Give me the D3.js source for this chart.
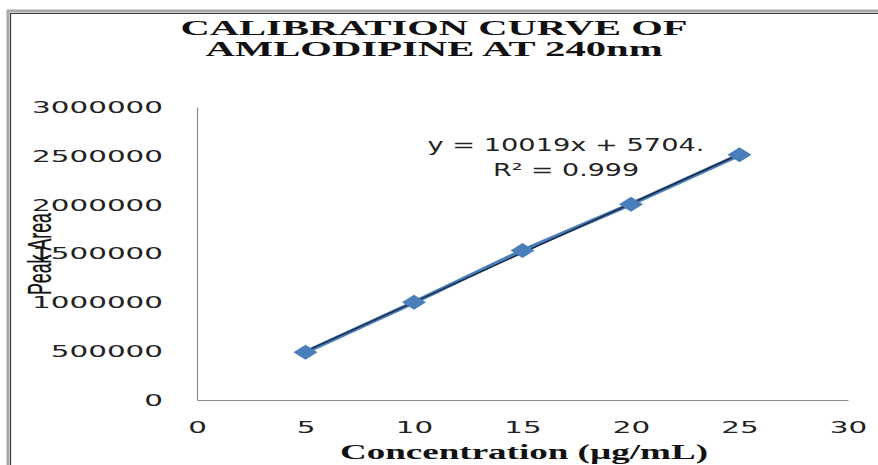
<!DOCTYPE html>
<html>
<head>
<meta charset="utf-8">
<script src="https://cdn.jsdelivr.net/npm/d3@7"></script>
<style>
  html, body { margin: 0; padding: 0; background: #fff; }
  svg { display: block; }
</style>
</head>
<body>
<svg id="chart" width="878" height="465"></svg>
<script>
// Calibration data: concentration (µg/mL) vs. peak area
const concentrations = [5, 10, 15, 20, 25];
const peakAreas = [490000, 1000000, 1530000, 2005000, 2510000];

const xTicks = [0, 5, 10, 15, 20, 25, 30];
const yTicks = [0, 500000, 1000000, 1500000, 2000000, 2500000, 3000000];

const titleLines = ["CALIBRATION CURVE OF", "AMLODIPINE AT 240nm"];
const equationLines = ["y = 10019x + 5704.", "R\u00B2 = 0.999"];
const xTitle = "Concentration (\u00B5g/mL)";
const yTitle = "Peak Area";

const svg = d3.select("#chart");

const plot = { left: 197, right: 848, top: 107, bottom: 400 };

const x = d3.scaleLinear().domain([0, 30]).range([plot.left, plot.right]);
const y = d3.scaleLinear().domain([0, 3000000]).range([plot.bottom, plot.top]);

// Outer frame (double line on top and left)
svg.append("path")
  .attr("d", "M8,465 V11 H878")
  .attr("fill", "none").attr("stroke", "#a8a8a8").attr("stroke-width", 3);
svg.append("path")
  .attr("d", "M10.5,465 V13.5 H878")
  .attr("fill", "none").attr("stroke", "#3a3a3a").attr("stroke-width", 1.2);

// Title
const titleBase = [35, 56];
const titleWidth = [507, 457];
titleLines.forEach((t, i) => {
  svg.append("text")
    .attr("x", 434).attr("y", titleBase[i])
    .attr("text-anchor", "middle")
    .attr("font-family", "'Liberation Serif', 'Times New Roman', serif")
    .attr("font-weight", "bold")
    .attr("font-size", 20)
    .attr("textLength", titleWidth[i])
    .attr("lengthAdjust", "spacingAndGlyphs")
    .attr("fill", "#111")
    .text(t);
});

// Axes
const digitW = 18.7;
const yAxis = d3.axisLeft(y).tickValues(yTicks).tickSize(0).tickPadding(34).tickFormat(d3.format("d"));
const gy = svg.append("g").attr("transform", `translate(${plot.left},0)`).call(yAxis);
gy.select(".domain").attr("stroke", "#8c8c8c").attr("stroke-width", 1.2);
gy.selectAll("text")
  .attr("font-family", "'DejaVu Sans', Verdana, sans-serif")
  .attr("font-size", 15)
  .attr("fill", "#222")
  .attr("dy", "0.36em")
  .attr("textLength", d => String(d).length * digitW)
  .attr("lengthAdjust", "spacingAndGlyphs");

const xAxis = d3.axisBottom(x).tickValues(xTicks).tickSize(0).tickPadding(28).tickFormat(d3.format("d"));
const gx = svg.append("g").attr("transform", `translate(0,${plot.bottom})`).call(xAxis);
gx.select(".domain").attr("stroke", "#8c8c8c").attr("stroke-width", 1.2);
gx.selectAll("text")
  .attr("font-family", "'DejaVu Sans', Verdana, sans-serif")
  .attr("font-size", 15)
  .attr("fill", "#222")
  .attr("dy", "0.3em")
  .attr("textLength", d => String(d).length * digitW)
  .attr("lengthAdjust", "spacingAndGlyphs");

// Axis titles
svg.append("text")
  .attr("x", 524).attr("y", 459)
  .attr("text-anchor", "middle")
  .attr("font-family", "'Liberation Serif', 'Times New Roman', serif")
  .attr("font-weight", "bold")
  .attr("font-size", 20)
  .attr("textLength", 368)
  .attr("lengthAdjust", "spacingAndGlyphs")
  .attr("fill", "#111")
  .text(xTitle);

svg.append("text")
  .attr("transform", "translate(51,254) rotate(-90)")
  .attr("text-anchor", "middle")
  .attr("font-family", "'Liberation Sans Narrow', 'Liberation Sans', Arial, sans-serif")
  .attr("font-size", 33)
  .attr("textLength", 82)
  .attr("lengthAdjust", "spacingAndGlyphs")
  .attr("fill", "#111")
  .attr("stroke", "#111")
  .attr("stroke-width", 0.3)
  .text(yTitle);

// Series line joining the points
const pts = concentrations.map((c, i) => [c, peakAreas[i]]);
svg.append("path")
  .datum(pts)
  .attr("d", d3.line().x(d => x(d[0])).y(d => y(d[1])))
  .attr("fill", "none")
  .attr("stroke", "#4a7ebb")
  .attr("stroke-width", 4);

// Least-squares trendline over the data range
const mx = d3.mean(concentrations), my = d3.mean(peakAreas);
const slope = d3.sum(pts, d => (d[0] - mx) * (d[1] - my)) / d3.sum(pts, d => (d[0] - mx) ** 2);
const intercept = my - slope * mx;
const xr = d3.extent(concentrations);
svg.append("path")
  .datum(xr.map(v => [v, slope * v + intercept]))
  .attr("d", d3.line().x(d => x(d[0])).y(d => y(d[1])))
  .attr("fill", "none")
  .attr("stroke", "#1a2a40")
  .attr("stroke-width", 1.5);

// Diamond markers
svg.selectAll(".pt")
  .data(pts)
  .join("path")
  .attr("class", "pt")
  .attr("transform", d => `translate(${x(d[0])},${y(d[1])})`)
  .attr("d", "M-12,0 L0,-7.5 L12,0 L0,7.5 Z")
  .attr("fill", "#4a7ebb");

// Trendline equation
const eqBase = [151, 176];
const eqWidth = [277, 146];
equationLines.forEach((t, i) => {
  svg.append("text")
    .attr("x", 566).attr("y", eqBase[i])
    .attr("text-anchor", "middle")
    .attr("font-family", "'DejaVu Sans', Verdana, sans-serif")
    .attr("font-size", 17)
    .attr("textLength", eqWidth[i])
    .attr("lengthAdjust", "spacingAndGlyphs")
    .attr("fill", "#222")
    .text(t);
});
</script>
</body>
</html>
